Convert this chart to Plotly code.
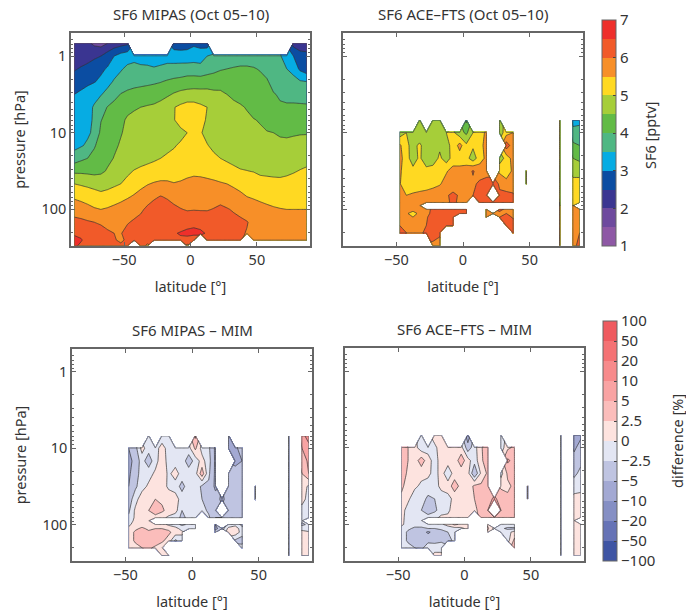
import numpy as np
import plotly.graph_objects as go

N = float("nan")
W, H = 686, 613
OFF = 0

LAT_MIPAS = [-87.5 + 5 * i for i in range(36)]
P_MIPAS = [0.681, 1, 1.468, 2.154, 3.162, 4.642, 6.813, 10, 14.68, 21.54, 31.62, 46.42, 68.13, 100, 146.8, 204.8, 250.7, 297.6]
SF6_MIPAS = [
 [2.2,2.2,2.1,1.9,1.8,2.0,2.2,2.3,2.4,N,N,N,N,N,N,2.7,2.7,2.8,2.9,2.8,2.7,N,N,N,N,N,N,N,N,N,N,N,N,2.3,2.2,2.3],
 [2.2,2.25,2.3,2.4,2.5,2.75,3.0,3.2,3.3,3.35,3.3,3.25,3.2,3.25,3.3,3.3,3.25,3.2,3.3,3.3,3.5,3.55,3.6,3.62,3.65,3.65,3.65,3.65,3.65,3.65,3.65,3.55,3.2,3.0,2.7,2.6],
 [2.45,2.55,2.65,2.8,2.9,3.05,3.3,3.45,3.6,3.65,3.6,3.6,3.55,3.6,3.65,3.65,3.7,3.75,3.7,3.65,3.75,3.85,3.95,4.0,4.05,4.1,4.1,4.05,3.95,3.85,3.7,3.6,3.5,3.35,2.9,2.7],
 [2.75,2.8,2.9,2.97,3.1,3.35,3.55,3.7,3.8,3.85,3.9,3.92,3.95,3.98,4.05,4.12,4.15,4.2,4.25,4.25,4.3,4.3,4.35,4.35,4.35,4.4,4.35,4.3,4.2,4.05,3.85,3.75,3.72,3.65,3.55,3.5],
 [3.0,3.1,3.2,3.35,3.47,3.65,3.85,4.02,4.1,4.15,4.15,4.18,4.2,4.3,4.42,4.55,4.65,4.7,4.7,4.68,4.65,4.6,4.57,4.5,4.4,4.35,4.3,4.25,4.18,4.1,4.03,3.95,3.9,3.9,3.88,3.85],
 [3.1,3.2,3.35,3.55,3.8,4.02,4.15,4.3,4.4,4.45,4.5,4.55,4.6,4.7,4.85,4.98,5.1,5.2,5.2,5.1,5.0,4.9,4.8,4.7,4.62,4.55,4.47,4.35,4.25,4.15,4.1,4.05,4.05,4.05,4.05,4.05],
 [3.15,3.25,3.4,3.55,3.98,4.15,4.3,4.42,4.55,4.62,4.68,4.72,4.78,4.85,4.92,4.98,5.15,5.3,5.3,5.15,4.95,4.85,4.8,4.72,4.68,4.62,4.58,4.52,4.47,4.38,4.3,4.25,4.22,4.22,4.25,4.25],
 [3.25,3.32,3.42,3.6,4.1,4.22,4.35,4.47,4.6,4.68,4.72,4.75,4.78,4.82,4.85,4.86,4.9,5.0,5.2,5.03,4.9,4.85,4.8,4.75,4.72,4.68,4.65,4.6,4.56,4.52,4.5,4.47,4.46,4.47,4.48,4.48],
 [3.35,3.45,3.58,3.95,4.2,4.3,4.42,4.55,4.65,4.72,4.76,4.8,4.83,4.87,4.92,4.97,5.05,5.2,5.25,5.15,5.02,4.92,4.85,4.8,4.76,4.72,4.7,4.67,4.63,4.6,4.58,4.56,4.56,4.58,4.6,4.62],
 [3.75,3.9,4.0,4.15,4.25,4.38,4.52,4.62,4.72,4.8,4.85,4.9,4.95,5.0,5.05,5.1,5.15,5.22,5.3,5.25,5.15,5.07,5.0,4.95,4.9,4.85,4.8,4.75,4.72,4.7,4.68,4.67,4.68,4.72,4.75,4.8],
 [4.4,4.4,4.38,4.35,4.4,4.55,4.7,4.8,4.92,5.02,5.08,5.12,5.15,5.2,5.25,5.3,5.33,5.38,5.4,5.38,5.33,5.27,5.2,5.13,5.08,5.03,5.01,4.98,4.9,4.88,4.85,4.83,4.88,4.95,5.03,5.1],
 [5.0,4.95,4.9,4.85,4.82,4.85,4.92,5.0,5.12,5.25,5.35,5.47,5.55,5.6,5.58,5.52,5.55,5.6,5.65,5.65,5.63,5.6,5.55,5.5,5.42,5.35,5.3,5.25,5.2,5.18,5.17,5.17,5.2,5.25,5.28,5.32],
 [5.42,5.35,5.28,5.2,5.12,5.18,5.27,5.35,5.45,5.55,5.7,5.82,5.93,6.02,5.95,5.85,5.8,5.78,5.77,5.78,5.8,5.8,5.82,5.78,5.7,5.6,5.5,5.45,5.4,5.35,5.32,5.28,5.28,5.3,5.32,5.35],
 [5.82,5.75,5.65,5.55,5.5,5.55,5.62,5.7,5.78,5.85,5.93,6.08,6.2,6.28,6.2,6.1,6.02,5.97,5.98,5.97,5.97,6.02,6.1,6.03,5.96,5.88,5.8,5.72,5.65,5.6,5.55,5.52,5.5,5.5,5.5,5.5],
 [6.12,6.1,6.05,6.0,5.95,5.9,5.88,5.9,5.97,6.05,6.13,6.2,6.28,6.32,6.28,6.22,6.18,6.25,6.3,6.3,6.25,6.2,6.25,6.2,6.12,6.08,6.02,5.9,5.82,5.75,5.72,5.7,5.7,5.7,5.7,5.7],
 [6.45,6.35,6.28,6.2,6.15,6.05,6.0,5.98,6.12,6.2,6.25,6.3,6.35,6.35,6.35,6.45,6.55,6.65,6.7,6.6,6.45,6.3,6.25,6.2,6.15,6.05,5.98,5.85,5.8,5.78,5.75,5.75,5.75,5.75,5.75,5.75],
 [6.6,6.55,6.3,6.25,6.2,6.1,6.05,5.9,6.1,6.15,6.2,6.2,6.3,6.4,6.3,6.3,6.4,6.3,6.0,N,6.2,6.3,6.5,6.3,6.2,6.02,N,5.85,5.8,5.78,5.75,5.75,5.75,5.75,5.75,5.75],
 [6.6,6.4,6.3,6.2,6.2,6.15,6.15,6.1,6.2,N,6.25,5.9,N,N,N,N,N,5.9,N,N,N,N,N,N,N,N,N,N,N,N,N,N,N,N,N,N],
]

LAT_ACE = [-47.5 + 5 * i for i in range(28)]
P_ACE = [6.89, 10, 14.68, 21.54, 31.62, 46.42, 65.4, 81, 89, 100, 113, 126, 162, 201, 297]
P_DIFF = [6.89, 10, 14.68, 21.54, 31.62, 46.42, 65.4, 81, 89, 100, 113, 126, 162, 201, 255]
SF6_ACE = [
 [N,N,N,4.6,N,4.7,4.7,N,N,N,3.9,N,N,N,N,4.8,N,N,N,N,N,N,N,N,5.3,N,3.3,3.4],
 [4.7,5.0,4.85,4.6,4.65,4.7,4.75,5.0,5.1,4.7,4.4,5.0,5.25,5.6,N,4.7,5.3,5.5,N,N,N,N,N,N,5.3,N,3.7,3.65],
 [5.6,5.1,4.85,5.1,4.7,4.75,4.9,4.9,5.1,5.7,5.1,5.1,5.3,5.7,N,N,6.3,5.7,N,N,N,N,N,N,5.3,N,4.1,4.0],
 [5.7,5.2,4.75,5.1,4.6,4.7,5.1,4.75,5.2,5.2,5.2,4.7,5.3,5.6,N,4.7,5.2,5.7,N,N,N,N,N,N,5.3,N,4.5,4.4],
 [5.6,5.2,5.15,5.2,5.2,5.25,5.3,5.45,5.7,5.7,5.75,6.05,5.75,5.7,N,5.4,5.2,5.6,N,5.2,N,N,N,N,5.4,N,4.9,4.8],
 [5.55,5.1,5.1,5.2,5.25,5.35,5.45,5.7,5.75,5.8,5.8,5.9,6.1,6.3,6.4,5.9,5.7,5.6,N,5.2,N,N,N,N,5.4,N,5.1,5.2],
 [5.6,5.5,5.6,5.65,5.7,5.75,5.85,5.95,6.1,5.95,5.85,6.0,6.2,6.1,N,6.1,6.15,6.1,N,N,N,N,N,N,5.5,N,5.3,5.4],
 [5.65,5.75,5.8,5.85,5.85,5.9,5.9,5.9,6.1,5.9,5.95,N,6.1,6.2,6.25,6.2,6.2,6.2,N,N,N,N,N,N,5.5,N,5.4,5.4],
 [5.7,5.75,5.8,5.85,N,N,N,N,N,N,N,N,N,N,N,N,N,N,N,N,N,N,N,N,5.5,N,5.5,N],
 [5.75,5.8,5.75,5.8,5.85,6.1,6.2,6.3,6.05,6.3,6.1,N,N,5.8,N,6.1,5.9,5.9,N,N,N,N,N,N,5.6,N,5.7,5.6],
 [5.9,5.6,5.2,5.7,5.9,6.1,6.25,6.2,6.05,6.25,6.1,N,N,5.8,5.9,5.9,6.0,6.0,N,N,N,N,N,N,5.7,N,5.8,5.8],
 [5.9,5.7,5.5,5.8,5.95,6.2,6.3,6.3,6.3,N,N,N,N,5.9,N,6.0,6.2,5.95,N,N,N,N,N,N,5.8,N,5.85,5.85],
 [6.0,5.9,5.85,5.85,6.0,6.2,6.3,6.2,6.1,N,N,N,N,N,N,N,6.05,6.2,N,N,N,N,N,N,5.8,N,5.9,5.95],
 [6.05,6.0,5.85,5.9,6.1,6.2,6.1,N,N,N,N,N,N,N,N,N,N,6.3,N,N,N,N,N,N,5.9,N,5.9,6.0],
 [N,N,N,N,N,5.9,5.8,N,N,N,N,N,N,N,N,N,N,N,N,N,N,N,N,N,5.9,N,5.9,6.1],
]
DIFF_MIPAS = [
 [N,N,N,-1.5,N,-1.5,-1.5,N,N,N,6,N,N,N,N,-6,N,N,N,N,N,N,N,N,-1,N,8,15],
 [-5,-3.5,1,-1.5,-1,1,-1,-1,-1,-1,3,-1,-2,-6,N,-6,-6,-4,N,N,N,N,N,N,-1,N,5,8],
 [-7,-4,-1.5,-4,-1,1.5,-1,-1,-1,-4,-1.5,1,-1.5,-6,N,N,-7,-5,N,N,N,N,N,N,-1,N,3.5,6],
 [-6,-3.5,-1.5,-1,0.5,1.5,-0.5,1,-1,-1,-1,4,-2,-6,N,-4,-3.5,-4,N,N,N,N,N,N,-1,N,2.5,5],
 [-5,-3,-1,0.5,1.5,1.2,-0.5,-1,-3.5,-1,-1,-3,-3,-6,N,-4,-3,-4,N,-1,N,N,N,N,-1,N,1.5,-0.5],
 [-4,-1,1.5,2,2.5,2,1.5,1,-1,-1,-2,-2.5,-2.5,-4,-6,-4,-3.5,-3,N,-1,N,N,N,N,-1,N,1,-1],
 [-3,0.5,1.5,2.5,4,3,1.5,1,-2.5,-1.5,-1.5,-1.5,-3,-4,N,-4,-3.5,-3,N,N,N,N,N,N,-1,N,-1,-1],
 [-2,0.5,1,1.5,1.5,0.7,-0.5,-1.5,-3,-2,-1.5,N,-2,-5,-5,-4,-3.5,-3,N,N,N,N,N,N,-1,N,-1,-1],
 [-1,0.5,1.5,1.5,N,N,N,N,N,N,N,N,N,N,N,N,N,N,N,N,N,N,N,N,-1,N,-2,N],
 [-0.5,1,1.5,1.8,1.5,1,-0.5,-1.5,-3,-2,-1,N,N,-5,N,-2,-1,-3,N,N,N,N,N,N,-1,N,-3,-2],
 [0.5,2,3,2,2.5,2.5,2,1,-1,-1,-1,N,N,-6,-4,1,2,-2,N,N,N,N,N,N,-1,N,-1,-2],
 [1,3,4,3,3.5,3,3,1.5,0.5,N,N,N,N,-4,N,1.5,1.5,-1,N,N,N,N,N,N,-1,N,1,0.5],
 [1,3,3,3,4,3,1.5,-3,-1,N,N,N,N,N,N,N,-3,-4,N,N,N,N,N,N,-1,N,1,0.5],
 [1,1.5,2.5,3,2,1,N,N,N,N,N,N,N,N,N,N,N,-1,N,N,N,N,N,N,-1,N,1.5,0.5],
 [N,N,N,N,N,1,1,N,N,N,N,N,N,N,N,N,N,N,N,N,N,N,N,N,-1,N,1,0.5],
]
DIFF_ACE = [
 [N,N,N,-1.5,N,1,1,N,N,N,-8,N,N,N,N,-1.5,N,N,N,N,N,N,N,N,-1,N,-6,-6],
 [4,2.5,1,-1.5,-1,-0.5,1,1,1,1,-4,-1,2,5,N,-1.5,2,3,N,N,N,N,N,N,-1,N,-6,-4],
 [5,2.5,1,4,1,-1,1,1,1,4,1,-1.5,2,4,N,N,6,4,N,N,N,N,N,N,-1,N,-4,-3],
 [4,2,1,0.8,0.7,-1,1,-1.5,1,1,1,-5,0.5,3,N,-1,3,3,N,N,N,N,N,N,-1,N,-3,-2],
 [3,1.5,0.5,-0.5,-1.2,-1.2,0.8,1,4,1.5,1,3,3,4,N,2,2,3,N,1,N,N,N,N,-1,N,-1.5,-1],
 [2,0.5,-1.5,-1.5,-3,-2.5,-1.5,-0.7,0.6,1,1,2.5,3,4,6,4,3,3,N,1,N,N,N,N,-1,N,1,1],
 [1,-1,-1.5,-2.5,-4,-3,-1.5,-1,2.5,1,1,1.5,4,5,N,5,3.5,3,N,N,N,N,N,N,-1,N,1,1.5],
 [0.5,-0.7,-1,-1.3,-1.5,-1,0.7,1,2.5,1,1,N,3,4,5,4,3.5,3,N,N,N,N,N,N,-1,N,1,1],
 [0.5,-0.8,-1,-1.5,N,N,N,N,N,N,N,N,N,N,N,N,N,N,N,N,N,N,N,N,-1,N,1,N],
 [0.5,-1,-1.5,-1.5,-1.5,-1,-0.5,1,3,2,1,N,N,2,N,-1,-1,-1,N,N,N,N,N,N,-1,N,1,1],
 [-0.8,-2,-3,-3,-2.5,-2.5,-2,-1.5,-1,-0.7,0.8,N,N,3,-1,-2,-3,-3,N,N,N,N,N,N,-1,N,2,2],
 [-1,-3,-3.5,-3.5,-6,-4,-3.5,-2.5,-1.2,N,N,N,N,2,N,-1,-1,1,N,N,N,N,N,N,-1,N,1,1.5],
 [-1,-3,-3.5,-4,-3,-3.5,-3,-4,-1.5,N,N,N,N,N,N,N,-1,3,N,N,N,N,N,N,-1,N,1,1.5],
 [-1,-1.5,-2.5,-3,-1.5,-1,-1,N,N,N,N,N,N,N,N,N,N,4,N,N,N,N,N,N,-1,N,1,1.5],
 [N,N,N,N,N,0.7,0.7,N,N,N,N,N,N,N,N,N,N,N,N,N,N,N,N,N,-1,N,1.5,1.5],
]

SF6_COLORS = ["#8E58A5","#6E4A9E","#3A3591","#0B4DA2","#06ACE3","#4FB783","#62BB46","#A6CE39","#FFD922","#F78F28","#F15A29","#EE2F2B"]
DIFF_COLORS = ["#3F55A4","#6673B6","#858FC4","#A3A9D3","#BFC4E1","#E3E6F3","#FDE3DF","#FBBDBB","#F9A3A3","#F78A8B","#F47274","#EF5A5F"]
DIFF_LEVELS = [-100,-50,-20,-10,-5,-2.5,0,2.5,5,10,20,50,100]
DIFF_LABELS = ["−100","−50","−20","−10","−5","−2.5","0","2.5","5","10","20","50","100"]
SF6_TICKS = [1,2,3,4,5,6,7]

FONT = "Noto Sans"
TXT = "#333333"
FRAME = "#666666"

def px_x(v):
    return (v - OFF) / W

def px_y(v):
    return 1 - (v - OFF) / H

def scale(colors):
    n = len(colors) + 1
    s = [[0, colors[0]]]
    for k, c in enumerate(colors):
        s.append([(k + 0.55) / n, c])
        s.append([(k + 1.45) / n, c])
    s.append([1, colors[-1]])
    return s

def to_index(z):
    return np.interp(np.array(z, float), DIFF_LEVELS, np.arange(len(DIFF_LEVELS)))

PANELS = [
    (SF6_MIPAS, LAT_MIPAS, P_MIPAS, "sf6", (71, 310, 33, 246), "SF6 MIPAS (Oct 05–10)"),
    (SF6_ACE, LAT_ACE, P_ACE, "sf6", (343, 583, 33, 246), "SF6 ACE–FTS (Oct 05–10)"),
    (DIFF_MIPAS, LAT_ACE, P_DIFF, "diff", (72, 312, 349, 561), "SF6 MIPAS – MIM"),
    (DIFF_ACE, LAT_ACE, P_DIFF, "diff", (345, 584, 348, 561), "SF6 ACE–FTS – MIM"),
]

fig = go.Figure()
ann = []
minor_vals = [m * 10 ** e for e in (-1, 0, 1, 2) for m in range(2, 10)]
minor_vals = [v for v in minor_vals if 0.5 <= v <= 300]

def contour(z, lat, p, kind, ax, ay, lines, bar=None):
    isdiff = kind == "diff"
    zz = to_index(z) if isdiff else np.array(z, float)
    start, end = (0, 12) if isdiff else (1, 7)
    size = 1 if isdiff else 0.5
    return go.Contour(
        x=lat, y=p, z=zz, xaxis=ax, yaxis=ay, hoverinfo="skip",
        zmin=start, zmax=end, autocontour=False, connectgaps=False,
        contours=dict(start=start, end=end, size=size, coloring="fill", showlines=lines),
        line=dict(color="#333333", width=0.7 if lines else 0, smoothing=0),
        colorscale=scale(DIFF_COLORS if isdiff else SF6_COLORS),
        showscale=bar is not None, colorbar=bar,
    )

tick_font = dict(size=15, family=FONT, color=TXT)
bar_top = dict(thickness=14, thicknessmode="pixels", len=226, lenmode="pixels", x=px_x(602), xanchor="left",
               y=px_y(20), yanchor="top", xpad=0, ypad=0, outlinecolor=FRAME, outlinewidth=1,
               tickvals=SF6_TICKS, ticktext=[str(t) for t in SF6_TICKS], ticks="inside", ticklen=3,
               tickcolor="#444444", tickfont=tick_font)
bar_bot = dict(thickness=14, thicknessmode="pixels", len=240, lenmode="pixels", x=px_x(603), xanchor="left",
               y=px_y(321), yanchor="top", xpad=0, ypad=0, outlinecolor=FRAME, outlinewidth=1,
               tickvals=list(range(13)), ticktext=DIFF_LABELS, ticks="inside", ticklen=3,
               tickcolor="#444444", tickfont=tick_font)

fig.add_trace(contour(SF6_MIPAS, LAT_MIPAS, P_MIPAS, "sf6", "x", "y", False, bar_top))
fig.add_trace(contour(DIFF_MIPAS, LAT_ACE, P_DIFF, "diff", "x3", "y3", False, bar_bot))

for i, (z, lat, p, kind, box, title) in enumerate(PANELS, start=1):
    x0, x1, y0, y1 = box
    s = "" if i == 1 else str(i)
    ax, ay = "x" + s, "y" + s
    left = i in (1, 3)
    fig.add_trace(contour(z, lat, p, kind, ax, ay, True))
    arr = np.array(z, float)
    mask = np.pad(np.isfinite(arr).astype(float), 1)
    mx = [lat[0] - 0.05] + list(lat) + [lat[-1] + 0.05]
    my = [p[0] * 0.999] + list(p) + [p[-1] * 1.001]
    fig.add_trace(go.Contour(
        x=mx, y=my, z=mask, xaxis=ax, yaxis=ay, hoverinfo="skip", showscale=False,
        autocontour=False, contours=dict(start=0.98, end=0.98, size=1, coloring="none"),
        line=dict(color="#444444", width=0.7, smoothing=0),
    ))
    fig.layout["xaxis" + s] = dict(
        domain=[px_x(x0), px_x(x1)], range=[-90, 90], anchor=ay,
        tickvals=[-50, 0, 50], ticks="inside", ticklen=4, tickcolor=FRAME,
        tickfont=dict(size=14.5, family=FONT, color=TXT),
        showgrid=False, zeroline=False, showline=True, linecolor=FRAME, linewidth=1.5,
        mirror="allticks",
        title=dict(text="latitude [°]", standoff=14, font=dict(size=14.5, family=FONT, color=TXT)),
    )
    fig.layout["yaxis" + s] = dict(
        domain=[px_y(y1), px_y(y0)], type="log",
        range=[np.log10(300), np.log10(0.5)], anchor=ax,
        tickmode="array", tickvals=[1, 10, 100], ticks="inside", ticklen=4, tickcolor=FRAME,
        ticktext=["1", "10", "100"] if left else ["", "", ""],
        tickfont=dict(size=14.5, family=FONT, color=TXT),
        minor=dict(tickmode="array", tickvals=minor_vals, ticks="inside", ticklen=2, tickcolor=FRAME),
        showgrid=False, zeroline=False, showline=True, linecolor=FRAME, linewidth=1.5,
        mirror="allticks",
        title=dict(text="pressure [hPa]" if left else "", standoff=12, font=dict(size=14.5, family=FONT, color=TXT)),
    )
    ann.append(dict(text=title, x=px_x((x0 + x1) / 2), y=px_y(y0 - 19), xref="paper", yref="paper",
                    xanchor="center", yanchor="middle", showarrow=False, font=dict(size=15, family=FONT, color=TXT)))

ann.append(dict(text="SF6 [pptv]", x=px_x(650), y=px_y(135), xref="paper", yref="paper", textangle=-90,
                xanchor="center", yanchor="middle", showarrow=False, font=dict(size=14.5, family=FONT, color=TXT)))
ann.append(dict(text="difference [%]", x=px_x(677), y=px_y(441), xref="paper", yref="paper", textangle=-90,
                xanchor="center", yanchor="middle", showarrow=False, font=dict(size=14.5, family=FONT, color=TXT)))

fig.update_layout(width=W, height=H, margin=dict(l=0, r=0, t=0, b=0), paper_bgcolor="white", plot_bgcolor="white",
                  showlegend=False, annotations=ann, font=dict(family=FONT, size=14, color=TXT))
fig.write_html("out.html", config={"displayModeBar": False}, post_script="document.body.style.margin='0';")
